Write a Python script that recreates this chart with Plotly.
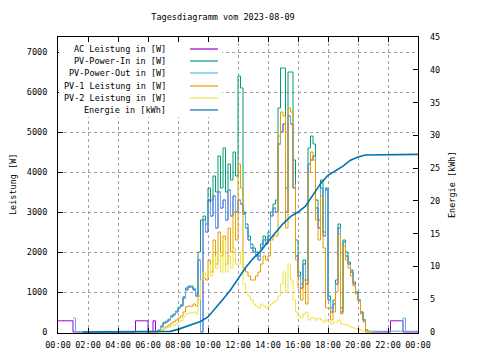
import plotly.graph_objects as go
import pandas as pd

N = None
times = pd.date_range("2023-08-09 00:00", "2023-08-10 00:00", freq="10min")

# values every 10 minutes, one row per hour (00:00 ... 23:50), last entry = 24:00
ac_w = [
    280, 280, 280, 280, 280, 280,      # 00
    0, 0, 0, 0, 0, 0,                  # 01
    0, 0, 0, 0, 0, 0,                  # 02
    0, 0, 0, 0, 0, 0,                  # 03
    0, 0, 0, 0, 0, 0,                  # 04
    0, 280, 280, 280, 280, 280,        # 05
    0, 0, 280, 0, 40, 130,             # 06
    220, 250, 300, 380, 430, 500,      # 07
    600, 650, 850, 1050, 1120, 1130,   # 08
    1050, 900, 1800, 0, 2800, 2500,    # 09
    3300, 2900, 3400, 2600, 3500, 3100,  # 10
    3300, 2800, 3550, 2900, 3400, 3000,  # 11
    3300, 3200, 2950, 2600, 2300, 2100,  # 12
    2000, 1900, 1800, 2100, 2300, 2200,  # 13
    2400, 2900, 3100, 3000, 4700, 5000,  # 14
    5200, 3000, 5400, 5200, 3600, 1900,  # 15
    1400, 1100, 1700, 1200, 4200, 4300,  # 16
    4400, 3100, 2600, 3600, 2400, 3550,  # 17
    800, 500, 700, 1200, 2600, 500,      # 18
    2250, 1900, 1700, 1500, 1200, 1000,  # 19
    800, 500, 300, 0, 0, 0,              # 20
    0, 0, 0, 0, 0, 0,                    # 21
    0, 280, 280, 280, 280, 280,          # 22
    0, 0, 0, 0, 0, 0,                    # 23
    0,
]

pv_in_w = [
    N, N, N, N, N, N,
    N, N, N, N, N, N,
    N, N, N, N, N, N,
    N, N, N, N, N, N,
    N, N, N, N, N, N,
    N, N, N, N, N, N,
    0, 0, 0, 0, 50, 150,
    240, 270, 320, 400, 450, 520,
    620, 680, 880, 1100, 1150, 1150,
    1080, 950, 2000, 2800, 2900, 2700,
    3600, 3300, 3900, 3500, 4400, 3600,
    4600, 3500, 4200, 3800, 4500, 3900,
    6400, 6100, 3000, 2700, 2400, 2200,
    2100, 2000, 1900, 2200, 2400, 2300,
    2500, 3000, 3200, 3300, 5600, 6600,
    6600, 3600, 6500, 6500, 4300, 2300,
    1500, 1200, 1800, 1300, 4600, 4900,
    4700, 3300, 2800, 3800, 2500, 3600,
    900, 600, 800, 1300, 2700, 600,
    2300, 2000, 1750, 1550, 1250, 1000,
    800, 500, 300, 50, 10, 0,
    0, N, N, N, N, N,
    N, N, N, N, N, N,
    N, N, N, N, N, N,
    N,
]

pv_out_w = [
    N, N, N, N, N, N,
    350, 0, 0, 0, 0, 0,
    0, 0, 0, 0, 0, 0,
    0, 0, 0, 0, 0, 0,
    0, 0, 0, 0, 0, 0,
    0, 0, 0, 0, 0, 0,
    0, 0, 0, 0, 40, 130,
    220, 250, 300, 380, 430, 500,
    600, 650, 850, 1050, 1120, 1130,
    1050, 900, 1800, 0, 2800, 2500,
    3250, 2900, 3400, 2600, 3500, 3100,
    3300, 2800, 3550, 2900, 3400, 3000,
    3300, 3200, 2950, 2600, 2300, 2100,
    2000, 1900, 1800, 2100, 2300, 2200,
    2400, 2900, 3100, 3000, 4700, 5000,
    5200, 3000, 5400, 5200, 3600, 1900,
    1400, 1100, 1700, 1200, 4200, 4300,
    4400, 3100, 2600, 3600, 2400, 3550,
    800, 500, 700, 1200, 2600, 500,
    2250, 1900, 1700, 1500, 1200, 1000,
    800, 500, 300, 50, 20, 20,
    20, 20, 20, 20, 20, 20,
    20, 20, 20, 20, 20, 20,
    350, 20, 20, 20, 20, 20,
    20,
]

pv1_w = [
    N, N, N, N, N, N,
    N, N, N, N, N, N,
    N, N, N, N, N, N,
    N, N, N, N, N, N,
    N, N, N, N, N, N,
    N, N, N, N, N, N,
    0, 0, 0, 0, 10, 50,
    100, 130, 170, 220, 260, 300,
    350, 400, 500, 630, 650, 640,
    700, 650, 900, 1300, 1350, 1300,
    1800, 1500, 2300, 1700, 2500, 1900,
    2400, 1700, 2600, 2000, 3000, 2300,
    4200, 3600, 1600, 1500, 1400, 1300,
    1300, 1400, 1500, 1700, 1900, 1800,
    1900, 2300, 2400, 2400, 4900, 5500,
    5400, 2600, 5600, 5500, 3700, 1800,
    1100, 800, 1300, 700, 4000, 4500,
    4300, 2800, 2300, 3400, 2100, 600,
    600, 300, 500, 1000, 2450, 450,
    2150, 1800, 1600, 1400, 1150, 950,
    750, 450, 250, 40, 0, 0,
    0, N, N, N, N, N,
    N, N, N, N, N, N,
    N, N, N, N, N, N,
    N,
]

pv2_w = [
    N, N, N, N, N, N,
    N, N, N, N, N, N,
    N, N, N, N, N, N,
    N, N, N, N, N, N,
    N, N, N, N, N, N,
    N, N, N, N, N, N,
    0, 0, 0, 0, 10, 40,
    80, 100, 120, 150, 170, 200,
    250, 280, 380, 450, 470, 480,
    500, 450, 800, 1300, 1500, 1400,
    1700, 1400, 1900, 1600, 2000, 1500,
    2300, 1500, 1900, 1600, 2100, 1700,
    1700, 2000, 1200, 1000, 900, 800,
    700, 650, 600, 700, 650, 600,
    650, 700, 750, 800, 900, 1200,
    1500, 1000, 1700, 1300, 800, 500,
    400, 350, 450, 500, 300, 350,
    350, 300, 350, 300, 250, 300,
    250, 200, 250, 250, 300, 200,
    200, 180, 150, 120, 100, 80,
    60, 40, 20, 5, 0, 0,
    0, N, N, N, N, N,
    N, N, N, N, N, N,
    N, N, N, N, N, N,
    N,
]

energy_times = [
    "2023-08-09 01:40", "2023-08-09 07:00", "2023-08-09 07:30", "2023-08-09 08:00",
    "2023-08-09 08:30", "2023-08-09 09:00", "2023-08-09 09:30", "2023-08-09 10:00",
    "2023-08-09 10:30", "2023-08-09 11:00", "2023-08-09 11:30", "2023-08-09 12:00",
    "2023-08-09 12:30", "2023-08-09 13:00", "2023-08-09 13:30", "2023-08-09 14:00",
    "2023-08-09 14:30", "2023-08-09 15:00", "2023-08-09 15:30", "2023-08-09 16:00",
    "2023-08-09 16:30", "2023-08-09 17:00", "2023-08-09 17:30", "2023-08-09 18:00",
    "2023-08-09 18:30", "2023-08-09 19:00", "2023-08-09 19:30", "2023-08-09 20:00",
    "2023-08-09 20:30", "2023-08-09 21:30", "2023-08-09 22:00", "2023-08-10 00:00",
]
energy_kwh = [
    0, 0, 0.1, 0.4,
    0.8, 1.2, 1.6, 2.3,
    3.6, 5.0, 6.4, 8.2,
    9.8, 11.2, 12.3, 13.8,
    15.1, 16.5, 17.6, 18.3,
    19.2, 20.9, 22.6, 23.9,
    24.6, 25.3, 26.2, 26.7,
    27.0, 27.0, 27.1, 27.1,
]

series_names = ["AC Leistung in [W]", "PV-Power-In in [W]", "PV-Power-Out in [W]",
                "PV-1 Leistung in [W]", "PV-2 Leistung in [W]", "Energie in [kWh]"]
series_colors = ["#9400d3", "#009e73", "#56b4e9", "#e69f00", "#f0e442", "#0072b2"]
power_series = [ac_w, pv_in_w, pv_out_w, pv1_w, pv2_w]

FONT = "DejaVu Sans Mono"
fig = go.Figure()
for name, vals, color in zip(series_names[:5], power_series, series_colors[:5]):
    fig.add_trace(go.Scatter(x=times, y=vals, mode="lines", name=name,
                             line=dict(color=color, width=1, shape="hv"),
                             showlegend=False, connectgaps=False))
fig.add_trace(go.Scatter(x=pd.to_datetime(energy_times), y=energy_kwh, mode="lines",
                         name=series_names[5], yaxis="y2",
                         line=dict(color=series_colors[5], width=1.6),
                         showlegend=False))

# page offset of the figure (default body margin) and plot area in page pixels
OFF = 8
L, R, T, B = 58, 418, 37, 333
W, H = R - L, B - T
def px(x):
    return (x - L) / W
def py(y):
    return (B - y) / H

shapes = [dict(type="rect", xref="paper", yref="paper", x0=px(59), x1=px(222),
               y0=py(117), y1=py(43), fillcolor="white", line=dict(width=0),
               layer="above")]
annotations = []
rows = [49, 61, 73, 86, 98, 110]
for name, color, ry in zip(series_names, series_colors, rows):
    annotations.append(dict(x=px(168), y=py(ry), xref="paper", yref="paper",
                            text=name, showarrow=False, xanchor="right",
                            yanchor="middle", font=dict(family=FONT, size=8.5, color="black")))
    shapes.append(dict(type="line", xref="paper", yref="paper", x0=px(190), x1=px(218),
                       y0=py(ry), y1=py(ry), line=dict(color=color, width=1.2),
                       layer="above"))

annotations.append(dict(x=px(13), y=py(185), xref="paper", yref="paper",
                        text="Leistung [W]", textangle=-90, showarrow=False,
                        xanchor="center", yanchor="middle",
                        font=dict(family=FONT, size=8.5, color="black")))
annotations.append(dict(x=px(452), y=py(185), xref="paper", yref="paper",
                        text="Energie [kWh]", textangle=-90, showarrow=False,
                        xanchor="center", yanchor="middle",
                        font=dict(family=FONT, size=8.5, color="black")))

tickfont = dict(family=FONT, size=8.5, color="black")
fig.update_layout(
    width=480, height=360,
    margin=dict(l=L - OFF, r=480 - (R - OFF), t=T - OFF, b=360 - (B - OFF), pad=0,
                autoexpand=False),
    paper_bgcolor="white", plot_bgcolor="white",
    title=dict(text="Tagesdiagramm vom 2023-08-09", x=(223 - OFF) / 480,
               y=1 - (17 - OFF) / 360,
               xanchor="center", yanchor="middle", xref="container", yref="container",
               font=dict(family=FONT, size=8.5, color="black")),
    xaxis=dict(type="date", range=[times[0], times[-1]], tickformat="%H:%M",
               dtick=2 * 3600 * 1000, tick0="2023-08-09 00:00",
               showgrid=True, gridcolor="#a0a0a0", griddash="3px,3px", gridwidth=1,
               ticks="inside", ticklen=5, tickcolor="black", showline=True,
               linecolor="black", linewidth=1, mirror="ticks", tickfont=tickfont,
               zeroline=False, ticklabelstandoff=4),
    yaxis=dict(range=[-25, 7375], tickvals=[0, 1000, 2000, 3000, 4000, 5000, 6000, 7000],
               showgrid=True, gridcolor="#a0a0a0", griddash="3px,3px", gridwidth=1,
               ticks="inside", ticklen=5, tickcolor="black", showline=True,
               linecolor="black", linewidth=1, mirror=True, tickfont=tickfont,
               zeroline=False, ticklabelstandoff=8),
    yaxis2=dict(range=[-0.1525, 45], overlaying="y", side="right",
                tickvals=[0, 5, 10, 15, 20, 25, 30, 35, 40, 45],
                showgrid=False, ticks="inside", ticklen=5, tickcolor="black",
                showline=False, tickfont=tickfont, zeroline=False, ticklabelstandoff=11),
    shapes=shapes, annotations=annotations,
)

fig.write_html("out.html")
